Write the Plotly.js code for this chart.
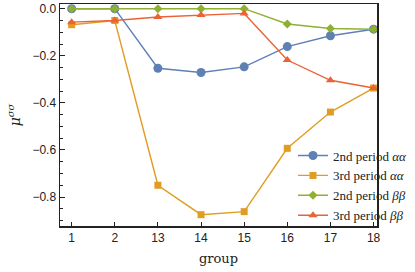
<!DOCTYPE html>
<html><head><meta charset="utf-8">
<script src="https://cdn.plot.ly/plotly-3.0.1.min.js"></script>
<style>html,body{margin:0;padding:0;background:#fff}#chart{width:415px;height:272px}</style>
</head><body><div id="chart"></div>
<script>
const groups = ['1','2','13','14','15','16','17','18'];
const alpha2 = [0.0, 0.0, -0.253, -0.271, -0.247, -0.161, -0.115, -0.087];
const alpha3 = [-0.068, -0.050, -0.750, -0.875, -0.862, -0.593, -0.439, -0.337];
const beta2  = [0.0, 0.0, 0.0, 0.0, 0.0, -0.065, -0.084, -0.087];
const beta3  = [-0.057, -0.050, -0.035, -0.027, -0.020, -0.218, -0.304, -0.337];
const names = ['2nd period <i>αα</i>','3rd period <i>αα</i>','2nd period <i>ββ</i>','3rd period <i>ββ</i>'];
const colors = ['#5e81b5','#e19c24','#8fb032','#eb6235'];
const symbols = ['circle','square','diamond','triangle-up'];
const sizes = [9,7,7,8];
const series = [alpha2, alpha3, beta2, beta3];
const traces = series.map((ys,i)=>({
  x: groups, y: ys, type:'scatter', mode:'lines+markers', name:names[i],
  line:{color:colors[i], width:1.4},
  marker:{color:colors[i], symbol:symbols[i], size:sizes[i]}
}));
const layout = {
  width:415, height:272,
  margin:{l:60,r:2,t:4,b:46},
  paper_bgcolor:'#fff', plot_bgcolor:'#fff',
  showlegend:true,
  legend:{x:0.735, y:0.385, xanchor:'left', yanchor:'top', bgcolor:'rgba(0,0,0,0)',
    font:{family:'Liberation Serif', size:13, color:'#222'}, itemwidth:30},
  xaxis:{type:'category', range:[-0.27,7.08], showgrid:false, zeroline:false,
    ticks:'inside', ticklen:4, tickcolor:'#222', showline:true, linecolor:'#222', linewidth:1.5, mirror:true,
    tickfont:{family:'Liberation Sans', size:12, color:'#222'},
    title:{text:'group', font:{family:'DejaVu Serif', size:13, color:'#222'}, standoff:10}},
  yaxis:{range:[-0.923,0.02], dtick:0.2, tick0:0, tickformat:'.1f', showgrid:false, zeroline:false,
    ticks:'inside', ticklen:5, tickcolor:'#222', showline:true, linecolor:'#222', linewidth:1.5, mirror:true,
    minor:{dtick:0.05, ticks:'inside', ticklen:3, tickcolor:'#222', showgrid:false},
    tickfont:{family:'Liberation Sans', size:12, color:'#222'},
    title:{text:'<i>μ</i><sup><i>σσ</i></sup>', font:{family:'DejaVu Serif', size:14, color:'#222'}, standoff:8}}
};
Plotly.newPlot('chart', traces, layout, {displayModeBar:false, staticPlot:true});
</script></body></html>
